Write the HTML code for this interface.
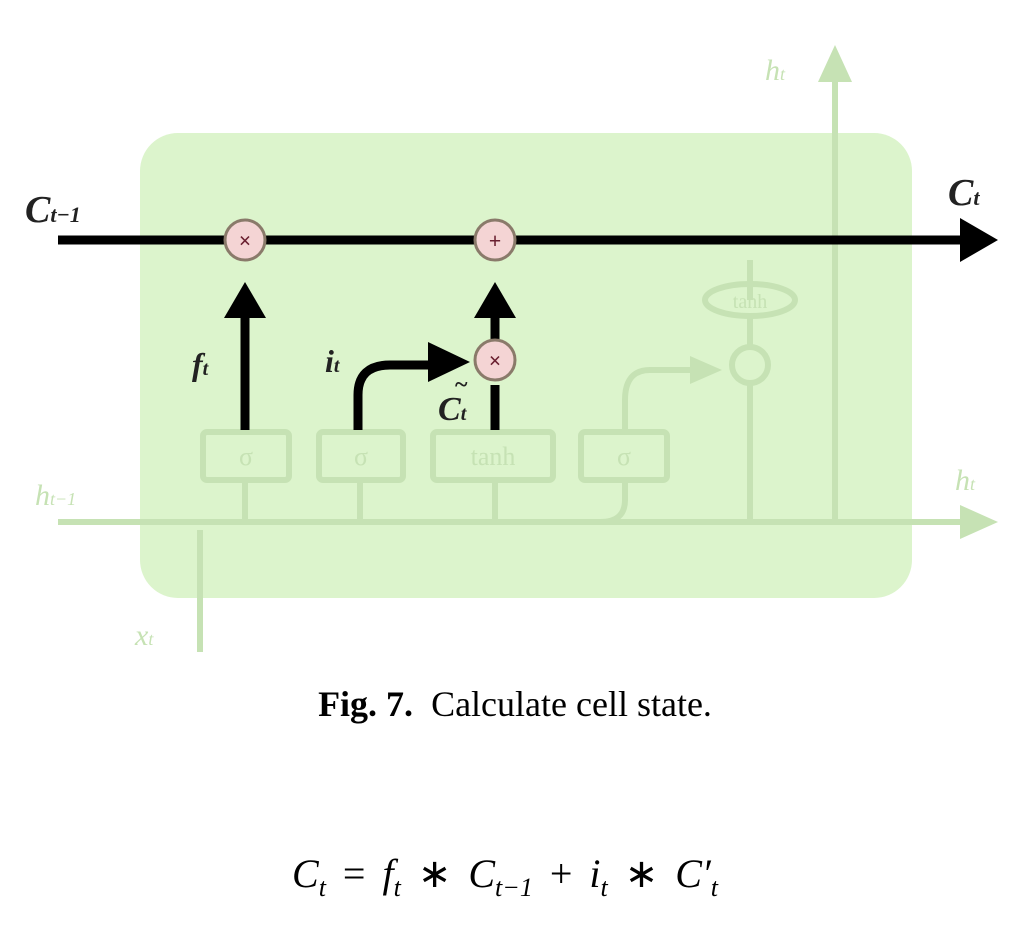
<!DOCTYPE html>
<html><head><style>
body{margin:0;background:#fff;width:1030px;height:939px;overflow:hidden;font-family:"Liberation Serif",serif}
.op{font-style:normal;margin:0 17px}
</style></head><body>
<svg width="1030" height="939" viewBox="0 0 1030 939" style="position:absolute;left:0;top:0">
<rect x="140" y="133" width="772" height="465" rx="38" fill="#dcf4cc"/>
<g stroke="#c6e2b4" stroke-width="6" fill="none">
<path d="M58,522 H960"/>
<path d="M200,530 V652"/>
<path d="M245,522 V480 M360,522 V480 M495,522 V480"/>
<path d="M600,522 Q625,522 625,500 V480"/>
<path d="M625,430 V400 Q625,370 650,370 H700"/>
<path d="M750,522 Q750,522 750,500 V385"/>
<path d="M750,300 V260 M750,345 V318"/>
<path d="M755,522 H835 M835,522 V80"/>
<rect x="203" y="432" width="86" height="48" rx="4"/>
<rect x="319" y="432" width="84" height="48" rx="4"/>
<rect x="433" y="432" width="120" height="48" rx="4"/>
<rect x="581" y="432" width="86" height="48" rx="4"/>
<ellipse cx="750" cy="300" rx="45" ry="16"/>
<circle cx="750" cy="365" r="18"/>
</g>
<path d="M960,505 L998,522 L960,539 z" fill="#c6e2b4"/>
<path d="M818,82 L835,45 L852,82 z" fill="#c6e2b4"/>
<path d="M690,356 L722,370 L690,384 z" fill="#c6e2b4"/>
<g fill="#c6e2b4" font-style="italic" font-size="30">
<text x="35" y="505">h<tspan font-size="18">t−1</tspan></text>
<text x="955" y="490">h<tspan font-size="18">t</tspan></text>
<text x="765" y="80">h<tspan font-size="18">t</tspan></text>
<text x="135" y="645">x<tspan font-size="18">t</tspan></text>
</g>
<g fill="#c6e2b4" font-size="26" text-anchor="middle"><text x="246" y="465">σ</text><text x="361" y="465">σ</text><text x="493" y="465">tanh</text><text x="624" y="465">σ</text><text x="750" y="308" font-size="20">tanh</text></g>
<g stroke="#000" fill="none" stroke-width="9">
<path d="M58,240 H960"/>
<path d="M245,430 V318"/>
<path d="M495,430 V385"/>
<path d="M495,340 V318"/>
<path d="M358,430 V395 Q358,365 390,365 H430"/>
</g>
<path d="M960,218 L998,240 L960,262 z" fill="#000"/>
<path d="M224,318 L245,282 L266,318 z" fill="#000"/>
<path d="M474,318 L495,282 L516,318 z" fill="#000"/>
<path d="M428,342 L470,362 L428,382 z" fill="#000"/>
<g stroke="#8a7a6a" stroke-width="3" fill="#f4d4d4">
<circle cx="245" cy="240" r="20"/><circle cx="495" cy="240" r="20"/><circle cx="495" cy="360" r="20"/>
</g>
<g fill="#6a2030" font-size="22" font-weight="bold" text-anchor="middle"><text x="245" y="248">×</text><text x="495" y="248">+</text><text x="495" y="368">×</text></g>
<g font-style="italic" font-weight="bold" fill="#222" font-size="38">
<text x="25" y="222">C<tspan font-size="22">t−1</tspan></text>
<text x="948" y="205">C<tspan font-size="22">t</tspan></text>
<text x="192" y="375" font-size="32">f<tspan font-size="20">t</tspan></text>
<text x="325" y="372" font-size="32">i<tspan font-size="20">t</tspan></text>
<text x="438" y="420" font-size="34">C<tspan font-size="20">t</tspan></text>
</g>
<text x="455" y="392" font-size="24" font-weight="bold" fill="#222">~</text>
</svg>
<div style="position:absolute;left:0;top:683px;width:1030px;text-align:center;font-size:36px"><b>Fig. 7.</b>&nbsp; Calculate cell state.</div>
<div style="position:absolute;left:292px;top:850px;font-size:40px;font-style:italic;white-space:nowrap">C<sub style="font-size:26px">t</sub><span class="op">=</span>f<sub style="font-size:26px">t</sub><span class="op">∗</span>C<sub style="font-size:26px">t−1</sub><span class="op">+</span>i<sub style="font-size:26px">t</sub><span class="op">∗</span>C′<sub style="font-size:26px">t</sub></div>
</body></html>
